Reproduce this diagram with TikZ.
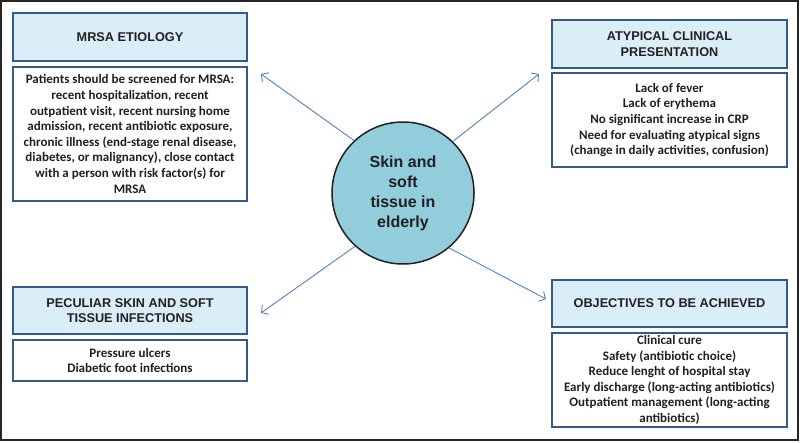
\documentclass[tikz,border=0pt]{standalone}
\usepackage{fontspec}
\setmainfont{Carlito}
\setsansfont{Liberation Sans}
\usetikzlibrary{arrows.meta}
\definecolor{hdrfill}{HTML}{DAEEF7}
\definecolor{boxline}{HTML}{345A8A}
\definecolor{circfill}{HTML}{92CDDC}
\definecolor{txt}{HTML}{231F20}
\definecolor{arrowblue}{HTML}{4F81BD}
\begin{document}
\begin{tikzpicture}[x=1pt,y=-1pt,
  hdr/.style={draw=boxline, line width=1.8pt, fill=hdrfill, text=txt, align=center,
    font=\sffamily\bfseries\fontsize{12.7}{15.7}\selectfont, inner sep=0pt},
  bodybox/.style={draw=boxline, line width=1.8pt, fill=white, text=txt, align=center,
    font=\bfseries\fontsize{13}{15.6}\selectfont, inner sep=0pt},
  hub/.style={circle, draw=txt, line width=1.5pt, fill=circfill, text=txt, align=center,
    font=\sffamily\bfseries\fontsize{16}{20}\selectfont, minimum size=142pt, inner sep=0pt},
  link/.style={draw=arrowblue, line width=0.9pt, -{Straight Barb[length=5pt,width=11pt]}}
]
\useasboundingbox (0,0) rectangle (800,442);
\draw[line width=1.6pt, draw=black!85] (1,1) rectangle (798,440);

\node[hdr, minimum width=234pt, minimum height=48pt] (mh) at (130,37) {MRSA ETIOLOGY};
\node[bodybox, minimum width=234pt, minimum height=134pt] (mb) at (130,134)
  {Patients should be screened for MRSA:\\recent hospitalization, recent\\outpatient visit, recent nursing home\\admission, recent antibiotic exposure,\\chronic illness (end-stage renal disease,\\diabetes, or malignancy), close contact\\with a person with risk factor(s) for\\MRSA};

\node[hdr, minimum width=235pt, minimum height=48pt] (ah) at (669.5,44) {ATYPICAL CLINICAL\\PRESENTATION};
\node[bodybox, minimum width=235pt, minimum height=94pt] (ab) at (669.5,120)
  {Lack of fever\\Lack of erythema\\No significant increase in CRP\\Need for evaluating atypical signs\\(change in daily activities, confusion)};

\node[hdr, minimum width=234pt, minimum height=47pt] (ph) at (130,310.5) {PECULIAR SKIN AND SOFT\\TISSUE INFECTIONS};
\node[bodybox, minimum width=234pt, minimum height=41pt] (pb) at (130,360.5)
  {Pressure ulcers\\Diabetic foot infections};

\node[hdr, minimum width=235pt, minimum height=47pt] (oh) at (669.5,303.5) {OBJECTIVES TO BE ACHIEVED};
\node[bodybox, minimum width=235pt, minimum height=94pt] (ob) at (669.5,380)
  {Clinical cure\\Safety (antibiotic choice)\\Reduce lenght of hospital stay\\Early discharge (long-acting antibiotics)\\Outpatient management (long-acting\\antibiotics)};

\node[hub] (hub) at (403,193) {Skin and\\soft\\tissue in\\elderly};

\coordinate (t1) at (261,74);
\coordinate (t2) at (539,74);
\coordinate (t3) at (261,313);
\coordinate (t4) at (546,299);
\draw[link] (hub.133) -- (t1);
\draw[link] (hub.46) -- (t2);
\draw[link] (hub.228) -- (t3);
\draw[link] (hub.310) -- (t4);
\end{tikzpicture}
\end{document}
